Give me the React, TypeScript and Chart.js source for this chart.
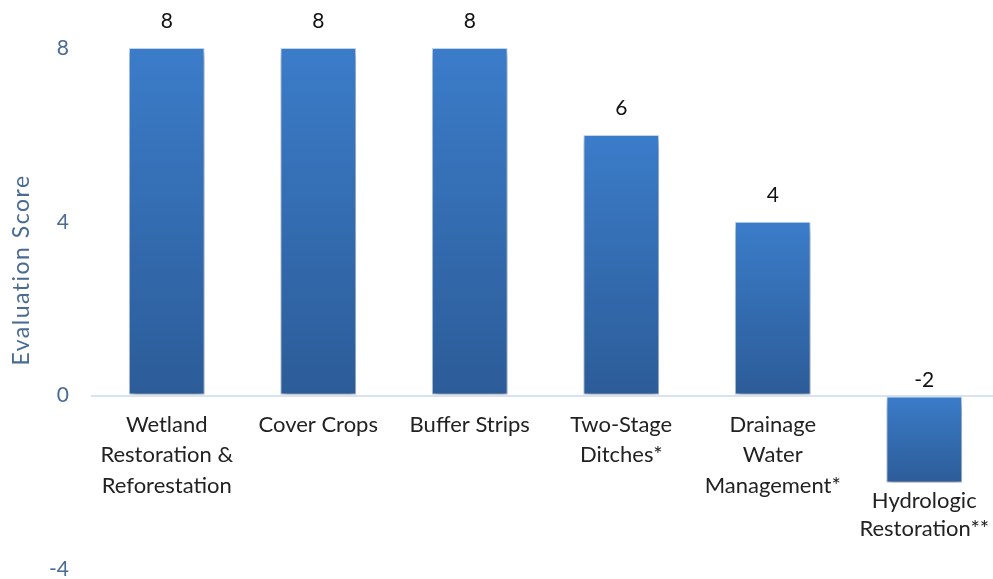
import { useEffect, useRef } from "react";
import { Chart, registerables } from "chart.js";

Chart.register(...registerables);

// Practice names, one entry per line of the wrapped label
const practices: string[][] = [
  ["Wetland", "Restoration &", "Reforestation"],
  ["Cover Crops"],
  ["Buffer Strips"],
  ["Two-Stage", "Ditches*"],
  ["Drainage", "Water", "Management*"],
  ["Hydrologic", "Restoration**"],
];
const scores: number[] = [8, 8, 8, 6, 4, -2];
const yTicks: number[] = [8, 4, 0, -4];
const axisTitle = "Evaluation Score";

const FONT = "Lato, 'Liberation Sans', sans-serif";
const TICK_COLOR = "#4a6b94";
const TEXT_COLOR = "#222222";
const BAR_TOP = "#3b7cc9";
const BAR_BOTTOM = "#2c5c98";

// The canvas is a bit larger than the visible frame; the frame clips it
const CANVAS_W = 1010;
const CANVAS_H = 604;

function barFill(ctx: any) {
  const chart = ctx.chart;
  const y = chart.scales?.y;
  const i = ctx.dataIndex;
  if (!y || i === undefined) return BAR_TOP;
  const v = scores[i];
  const top = y.getPixelForValue(Math.max(v, 0));
  const bottom = y.getPixelForValue(Math.min(v, 0));
  if (!isFinite(top) || !isFinite(bottom) || top === bottom) return BAR_TOP;
  const g = chart.ctx.createLinearGradient(0, top, 0, bottom);
  g.addColorStop(0, BAR_TOP);
  g.addColorStop(1, BAR_BOTTOM);
  return g;
}

// Soft drop shadow under the bars
const barShadow = {
  id: "barShadow",
  beforeDatasetsDraw(chart: any) {
    const c = chart.ctx;
    c.save();
    c.shadowColor = "rgba(0,0,0,0.4)";
    c.shadowBlur = 7;
    c.shadowOffsetX = 1;
    c.shadowOffsetY = 5;
  },
  afterDatasetsDraw(chart: any) {
    chart.ctx.restore();
  },
};

// Value labels, category labels and the rotated y-axis title
const annotations = {
  id: "annotations",
  afterDraw(chart: any) {
    const c = chart.ctx;
    const y = chart.scales.y;
    const meta = chart.getDatasetMeta(0);
    const zero = y.getPixelForValue(0);
    c.save();
    c.textAlign = "center";
    c.textBaseline = "middle";
    meta.data.forEach((bar: any, i: number) => {
      const v = scores[i];
      // value label
      c.fillStyle = "#111111";
      c.font = `21px ${FONT}`;
      const vy = v >= 0 ? y.getPixelForValue(v) - 27 : zero - 15;
      c.fillText(String(v), bar.x, vy);
      // category label under the bar's lower end
      c.fillStyle = TEXT_COLOR;
      c.font = `22px ${FONT}`;
      const start = v >= 0 ? zero + 29 : y.getPixelForValue(v) + 18;
      const lh = v >= 0 ? 30.5 : 28;
      practices[i].forEach((line, k) => {
        c.fillText(line, bar.x, start + k * lh);
      });
    });
    // axis title
    c.translate(22, 270);
    c.rotate(-Math.PI / 2);
    c.fillStyle = TICK_COLOR;
    c.font = `23px ${FONT}`;
    (c as any).letterSpacing = "1.5px";
    c.fillText(axisTitle, 0, 0);
    c.restore();
  },
};

export default function App() {
  const ref = useRef<HTMLCanvasElement | null>(null);

  useEffect(() => {
    document.body.style.margin = "0";
    const canvas = ref.current;
    if (!canvas) return;
    const chart = new Chart(canvas, {
      type: "bar",
      data: {
        labels: practices.map((p) => p.join(" ")),
        datasets: [
          {
            data: scores,
            backgroundColor: barFill,
            borderColor: "rgba(150,185,230,0.55)",
            borderWidth: 1,
            borderSkipped: false,
            categoryPercentage: 1,
            barPercentage: 0.5,
          },
        ],
      },
      options: {
        animation: false,
        responsive: false,
        devicePixelRatio: 1,
        layout: { padding: { top: 48, bottom: 9, left: 0, right: CANVAS_W - 1000 } },
        plugins: {
          legend: { display: false },
          tooltip: { enabled: false },
        },
        scales: {
          x: { display: false },
          y: {
            min: yTicks[yTicks.length - 1],
            max: yTicks[0],
            afterFit: (scale: any) => {
              scale.width = 91;
            },
            afterBuildTicks: (scale: any) => {
              scale.ticks = yTicks.map((v) => ({ value: v }));
            },
            border: { display: false },
            grid: {
              drawTicks: false,
              lineWidth: 2,
              color: (ctx: any) => (ctx.tick && ctx.tick.value === 0 ? "#d7e2f2" : "rgba(0,0,0,0)"),
            },
            ticks: {
              padding: 22,
              color: TICK_COLOR,
              font: { family: FONT, size: 21 },
            },
          },
        },
      },
      plugins: [barShadow, annotations],
    });
    return () => chart.destroy();
  }, []);

  return (
    <div
      style={{
        position: "fixed",
        left: 0,
        top: 0,
        width: 993,
        height: 579,
        overflow: "hidden",
        background: "#ffffff",
      }}
    >
      <canvas ref={ref} width={CANVAS_W} height={CANVAS_H} style={{ display: "block" }} />
    </div>
  );
}
